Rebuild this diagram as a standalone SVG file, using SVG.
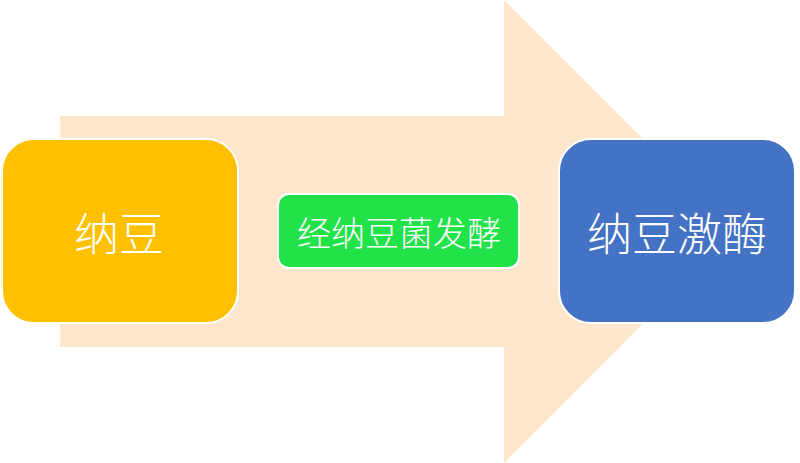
<svg xmlns="http://www.w3.org/2000/svg" width="800" height="463" viewBox="0 0 800 463">
<style>
.box{stroke:#ffffff;stroke-width:2}
.t{fill:#ffffff;font-family:"Noto Sans CJK SC","Noto Sans CJK JP",sans-serif;font-weight:300;text-anchor:middle;dominant-baseline:central}
</style>
<g id="connectors">
<polygon id="big-arrow" points="60,116 504,116 504,0 735,231 504,463 504,347 60,347" fill="#FEE6CC"/>
</g>
<g id="node-natto">
<rect class="box" x="2" y="139" width="236" height="184" rx="32" fill="#FFC000"/>
<text class="t" x="119" y="231" font-size="45">纳豆</text>
</g>
<g id="node-ferment">
<rect class="box" x="278" y="194" width="241" height="74" rx="11" fill="#22E24A"/>
<text class="t" x="399" y="231" font-size="34">经纳豆菌发酵</text>
</g>
<g id="node-nattokinase">
<rect class="box" x="559" y="139" width="236" height="184" rx="32" fill="#4472C4"/>
<text class="t" x="677" y="231" font-size="45">纳豆激酶</text>
</g>
</svg>
